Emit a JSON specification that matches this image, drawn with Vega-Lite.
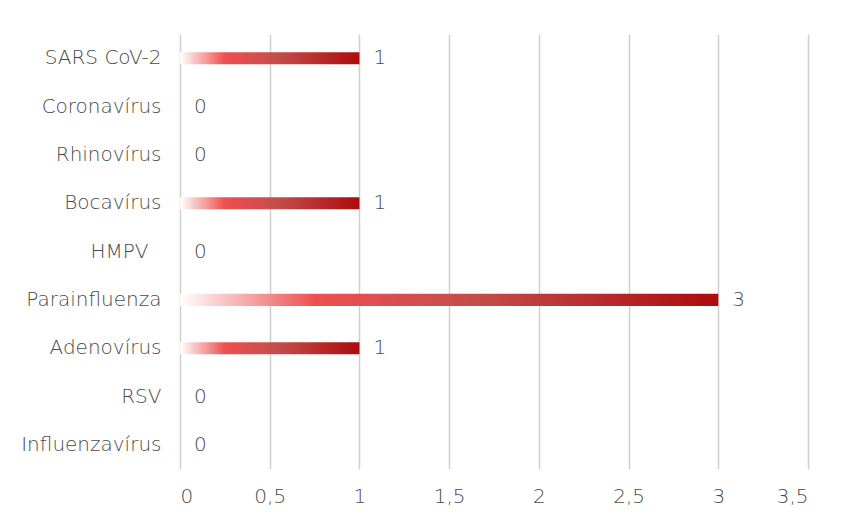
{
  "$schema": "https://vega.github.io/schema/vega-lite/v6.json",
  "width": 628,
  "height": 435,
  "autosize": {"type": "none"},
  "padding": {"left": 180, "top": 34, "right": 48, "bottom": 62},
  "background": "white",
  "data": {
    "values": [
      {"virus": "SARS CoV-2", "n": 1},
      {"virus": "Coronavírus", "n": 0},
      {"virus": "Rhinovírus", "n": 0},
      {"virus": "Bocavírus", "n": 1},
      {"virus": "HMPV", "n": 0},
      {"virus": "Parainfluenza", "n": 3},
      {"virus": "Adenovírus", "n": 1},
      {"virus": "RSV", "n": 0},
      {"virus": "Influenzavírus", "n": 0}
    ]
  },
  "encoding": {
    "y": {
      "field": "virus",
      "type": "nominal",
      "sort": null,
      "title": null,
      "scale": {"paddingInner": 0.75, "paddingOuter": 0.375},
      "axis": {
        "domain": false,
        "ticks": false,
        "labelPadding": {"expr": "datum.value == 'HMPV' ? 32 : 19"},
        "labelFont": "DejaVu Sans",
        "labelFontWeight": 200,
        "labelFontSize": 20,
        "labelColor": "#4a4a4a"
      }
    },
    "x": {
      "field": "n",
      "type": "quantitative",
      "title": null,
      "scale": {"domain": [0, 3.5], "nice": false},
      "axis": {
        "values": [0, 0.5, 1, 1.5, 2, 2.5, 3, 3.5],
        "format": ",.1~f",
        "formatType": "number",
        "labelExpr": "replace(datum.label, '.', ',')",
        "domain": false,
        "ticks": false,
        "grid": true,
        "gridColor": "#d0d0d0",
        "gridWidth": 1.5,
        "labelPadding": 17,
        "labelFont": "DejaVu Sans",
        "labelFontWeight": 200,
        "labelFontSize": 20,
        "labelColor": "#4a4a4a"
      }
    }
  },
  "layer": [
    {
      "mark": {
        "type": "bar",
        "color": {
          "gradient": "linear",
          "x1": 0, "x2": 1, "y1": 0, "y2": 0,
          "stops": [
            {"offset": 0, "color": "#ffffff"},
            {"offset": 0.25, "color": "#ee5050"},
            {"offset": 0.55, "color": "#c44c4c"},
            {"offset": 1, "color": "#ac0c0c"}
          ]
        }
      }
    },
    {
      "mark": {
        "type": "text",
        "align": "left",
        "baseline": "middle",
        "dx": 14,
        "font": "DejaVu Sans",
        "fontWeight": 200,
        "fontSize": 20,
        "color": "#4a4a4a"
      },
      "encoding": {"text": {"field": "n", "type": "quantitative"}}
    }
  ],
  "config": {"view": {"stroke": null}}
}
